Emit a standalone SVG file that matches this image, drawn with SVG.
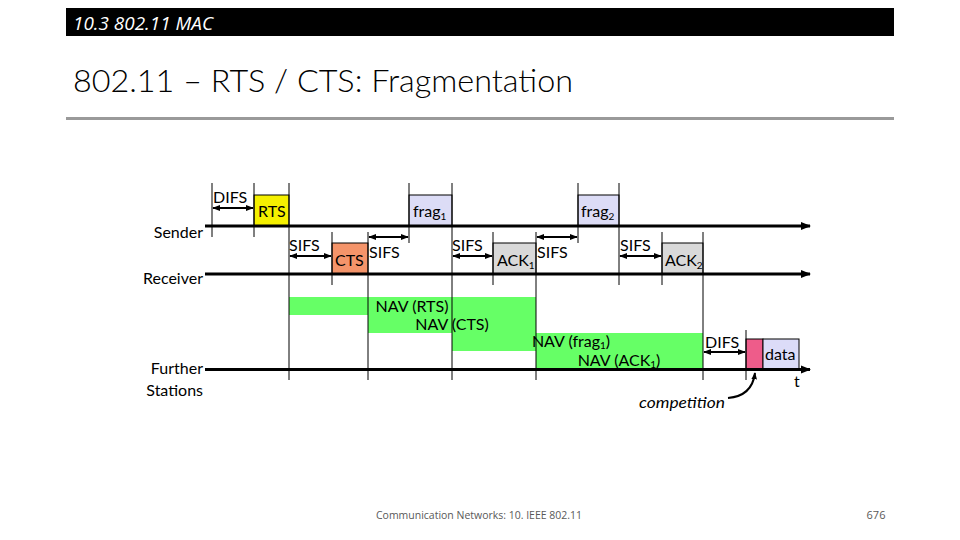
<svg xmlns="http://www.w3.org/2000/svg" width="960" height="540" viewBox="0 0 960 540">
<style>
.t{font-family:Lato,"Open Sans","Liberation Sans",sans-serif;font-size:16px;fill:#000}
.s{font-size:10px}
.box{stroke:#000;stroke-width:1}
.tick{stroke:#000;stroke-width:1;fill:none}
.axis{stroke:#000;stroke-width:3;fill:none}
.dbl{stroke:#000;stroke-width:2;fill:none;marker-start:url(#ah);marker-end:url(#ah)}
.nav{fill:#66ff66;stroke:none}
</style>
<defs>
<marker id="ah" viewBox="0 0 10 10" refX="9" refY="5" markerWidth="4" markerHeight="4" orient="auto-start-reverse" markerUnits="strokeWidth"><path d="M0,1 L10,5 L0,9 z" fill="#000"/></marker>
<marker id="big" viewBox="0 0 10 10" refX="9" refY="5" markerWidth="3.5" markerHeight="3.5" orient="auto" markerUnits="strokeWidth"><path d="M0,1 L10,5 L0,9 z" fill="#000"/></marker>
</defs>
<rect width="960" height="540" fill="#fff"/>
<g id="header">
<rect x="66" y="8" width="828" height="28" fill="#000"/>
<text x="73" y="30" font-family="'Open Sans',Lato,sans-serif" font-style="italic" font-weight="400" font-size="18" fill="#fff" textLength="140" lengthAdjust="spacingAndGlyphs">10.3 802.11 MAC</text>
</g>
<g id="title">
<text x="73" y="92" font-family="Lato,'Open Sans',sans-serif" font-weight="300" font-size="31" fill="#000" textLength="500" lengthAdjust="spacingAndGlyphs">802.11 – RTS / CTS: Fragmentation</text>
<rect x="66" y="117" width="828" height="3" fill="#9a9a9a"/>
</g>
<g id="labels">
<text class="t" x="203" y="238" text-anchor="end">Sender</text>
<text class="t" x="203" y="284" text-anchor="end">Receiver</text>
<text class="t" x="203" y="374" text-anchor="end">Further</text>
<text class="t" x="203" y="396" text-anchor="end">Stations</text>
</g>
<g id="nav-rts"><rect class="nav" x="289" y="297" width="247" height="18"/><text class="t" x="412" y="312" text-anchor="middle">NAV (RTS)</text></g>
<g id="nav-cts"><rect class="nav" x="368" y="315" width="168" height="18"/><text class="t" x="452" y="330" text-anchor="middle">NAV (CTS)</text></g>
<g id="nav-frag1"><rect class="nav" x="452" y="333" width="251" height="18"/><text class="t" x="571" y="347" text-anchor="middle">NAV (frag<tspan class="s" dy="2">1</tspan><tspan dy="-2">)</tspan></text></g>
<g id="nav-ack1"><rect class="nav" x="536" y="351" width="167" height="18"/><text class="t" x="619" y="366" text-anchor="middle">NAV (ACK<tspan class="s" dy="2">1</tspan><tspan dy="-2">)</tspan></text></g>
<g id="rts"><rect class="box" x="254" y="195" width="35" height="31" fill="#f5f000"/><text class="t" x="258" y="217">RTS</text></g>
<g id="cts"><rect class="box" x="332" y="243" width="36" height="31" fill="#f4946a"/><text class="t" x="335" y="266">CTS</text></g>
<g id="frag1"><rect class="box" x="409" y="195" width="43" height="31" fill="#dcdcf6"/><text class="t" x="413" y="217">frag<tspan class="s" dy="3">1</tspan></text></g>
<g id="ack1"><rect class="box" x="493" y="243" width="43" height="31" fill="#d9d9d9"/><text class="t" x="497" y="266">ACK<tspan class="s" dy="3">1</tspan></text></g>
<g id="frag2"><rect class="box" x="578" y="195" width="41" height="31" fill="#dcdcf6"/><text class="t" x="581" y="217">frag<tspan class="s" dy="3">2</tspan></text></g>
<g id="ack2"><rect class="box" x="662" y="243" width="41" height="31" fill="#d9d9d9"/><text class="t" x="665" y="266">ACK<tspan class="s" dy="3">2</tspan></text></g>
<g id="contention"><rect class="box" x="746" y="339" width="17" height="30" fill="#ee5c8a"/></g>
<g id="data"><rect class="box" x="763" y="339" width="36" height="30" fill="#dcdcf8"/><text class="t" x="765" y="360">data</text></g>
<g id="interval-labels">
<text class="t" x="213" y="203">DIFS</text>
<text class="t" x="289" y="251">SIFS</text>
<text class="t" x="369" y="258">SIFS</text>
<text class="t" x="452" y="251">SIFS</text>
<text class="t" x="537" y="258">SIFS</text>
<text class="t" x="620" y="251">SIFS</text>
<text class="t" x="705" y="348">DIFS</text>
<text class="t" x="794" y="387">t</text>
<text class="t" x="639" y="408" font-style="italic" font-size="17" textLength="86" lengthAdjust="spacingAndGlyphs">competition</text>
</g>
<g id="connectors">
<path class="axis" d="M205 226 H810" marker-end="url(#big)"/>
<path class="axis" d="M205 274 H810" marker-end="url(#big)"/>
<path class="axis" d="M205 369.5 H810" marker-end="url(#big)"/>
<path class="tick" d="M212 183V237 M254 183V237 M289 183V380 M332 232V285 M368 232V380 M409 183V243 M452 183V380 M493 232V285 M536 232V380 M578 183V243 M619 183V285 M662 232V285 M703 232V380 M746 330V380"/>
<path class="dbl" d="M213 208H253"/>
<path class="dbl" d="M290 256H331"/>
<path class="dbl" d="M369 237H408"/>
<path class="dbl" d="M453 256H492"/>
<path class="dbl" d="M537 237H577"/>
<path class="dbl" d="M620 256H661"/>
<path class="dbl" d="M704 352H745"/>
<path d="M728 398 Q752 396 755 373" stroke="#000" stroke-width="2" fill="none" marker-end="url(#big)"/>
</g>
<g id="footer">
<text x="479" y="519" text-anchor="middle" font-family="'Open Sans',Lato,sans-serif" font-size="11" fill="#595959" textLength="206" lengthAdjust="spacingAndGlyphs">Communication Networks: 10. IEEE 802.11</text>
<text x="876" y="519" text-anchor="middle" font-family="'Open Sans',Lato,sans-serif" font-size="11" fill="#595959">676</text>
</g>
</svg>
